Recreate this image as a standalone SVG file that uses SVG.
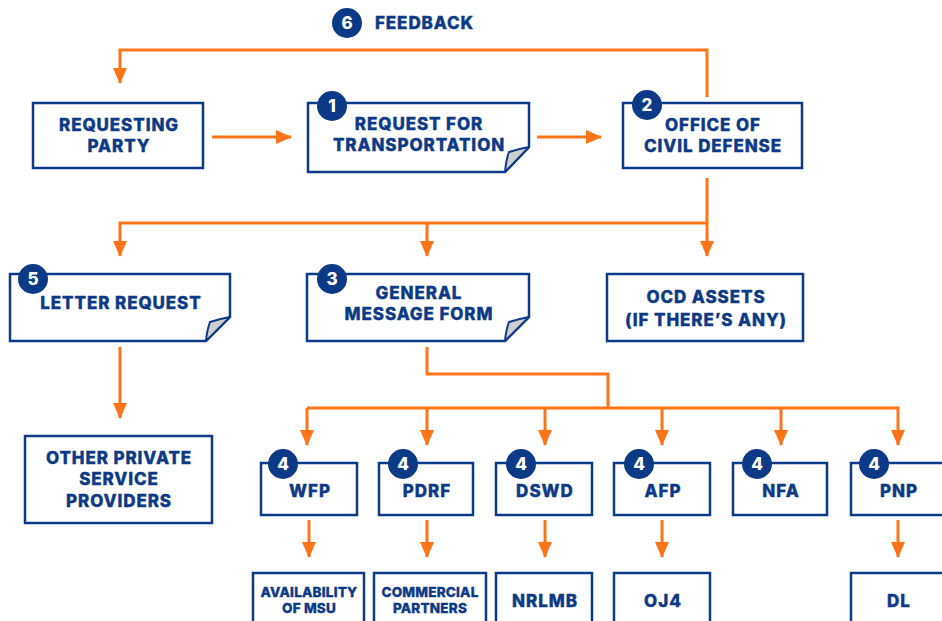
<svg xmlns="http://www.w3.org/2000/svg" width="942" height="621" viewBox="0 0 942 621">
  <style>
    .box { fill: #ffffff; stroke: #0d3a86; stroke-width: 2.5; }
    .fold { fill: #cfcfcf; stroke: #0d3a86; stroke-width: 2; stroke-linejoin: round; }
    .lbl { font-family: Inter, "Open Sans", "DejaVu Sans", sans-serif; font-weight: 800; fill: #0d3a86; stroke: #0d3a86; stroke-width: 0.35; text-anchor: middle; }
    .t17 { font-size: 17px; letter-spacing: 0.9px; }
    .t15 { font-size: 17px; letter-spacing: 1px; }
    .t12 { font-size: 13.5px; letter-spacing: 0.2px; }
    .badge { fill: #0d3a86; }
    .num { font-family: Inter, "Open Sans", "DejaVu Sans", sans-serif; font-weight: 800; font-size: 17px; fill: #ffffff; text-anchor: middle; }
    .wire { fill: none; stroke: #ff7418; stroke-width: 3; }
  </style>
  <defs>
    <marker id="tip" markerUnits="userSpaceOnUse" markerWidth="16" markerHeight="14" viewBox="0 0 16 14" refX="15" refY="7" orient="auto">
      <path d="M0,0 L16,7 L0,14 Z" fill="#ff7418"/>
    </marker>
  </defs>

  <!-- connectors -->
  <g id="connectors">
    <path class="wire" d="M707,97 V50 H120 V83" marker-end="url(#tip)"/>
    <path class="wire" d="M212,137 H291" marker-end="url(#tip)"/>
    <path class="wire" d="M537,137 H601" marker-end="url(#tip)"/>
    <path class="wire" d="M707,178 V256" marker-end="url(#tip)"/>
    <path class="wire" d="M707,223 H120 V256" marker-end="url(#tip)"/>
    <path class="wire" d="M427,223 V256" marker-end="url(#tip)"/>
    <path class="wire" d="M120,347 V418" marker-end="url(#tip)"/>
    <path class="wire" d="M427,347 V374 H608 V408"/>
    <path class="wire" d="M307,408 H898 V445" marker-end="url(#tip)"/>
    <path class="wire" d="M307,408 V445" marker-end="url(#tip)"/>
    <path class="wire" d="M427,408 V445" marker-end="url(#tip)"/>
    <path class="wire" d="M545,408 V445" marker-end="url(#tip)"/>
    <path class="wire" d="M662,408 V445" marker-end="url(#tip)"/>
    <path class="wire" d="M781,408 V445" marker-end="url(#tip)"/>
    <path class="wire" d="M309,520 V557" marker-end="url(#tip)"/>
    <path class="wire" d="M427,520 V557" marker-end="url(#tip)"/>
    <path class="wire" d="M545,520 V557" marker-end="url(#tip)"/>
    <path class="wire" d="M662,520 V557" marker-end="url(#tip)"/>
    <path class="wire" d="M898,520 V557" marker-end="url(#tip)"/>
  </g>

  <!-- step 6 heading -->
  <g id="feedback">
    <circle class="badge" cx="347" cy="23" r="15"/>
    <text class="num" x="347" y="29">6</text>
    <text class="lbl t17" x="375" y="29" style="text-anchor:start">FEEDBACK</text>
  </g>

  <g id="requesting-party">
    <rect class="box" x="33" y="103" width="170" height="65"/>
    <text class="lbl t17" x="119" y="131">REQUESTING</text>
    <text class="lbl t17" x="119" y="152">PARTY</text>
  </g>

  <g id="request-transportation">
    <path class="box" d="M308,103 H529 V147 L505,172 H308 Z"/>
    <path class="fold" d="M505,172 Q506,160 509,152 Q518,149 529,147 Z"/>
    <circle class="badge" cx="332" cy="106" r="15"/>
    <text class="num" x="332" y="112">1</text>
    <text class="lbl t17" x="419" y="130">REQUEST FOR</text>
    <text class="lbl t17" x="419" y="151">TRANSPORTATION</text>
  </g>

  <g id="ocd">
    <rect class="box" x="623" y="103" width="179" height="65"/>
    <circle class="badge" cx="647" cy="105" r="15"/>
    <text class="num" x="647" y="111">2</text>
    <text class="lbl t17" x="713" y="131">OFFICE OF</text>
    <text class="lbl t17" x="713" y="152">CIVIL DEFENSE</text>
  </g>

  <g id="letter-request">
    <path class="box" d="M10,274 H230 V317 L206,341 H10 Z"/>
    <path class="fold" d="M206,341 Q207,330 210,322 Q219,319 230,317 Z"/>
    <circle class="badge" cx="33" cy="279" r="15"/>
    <text class="num" x="33" y="285">5</text>
    <text class="lbl t17" x="121" y="309">LETTER REQUEST</text>
  </g>

  <g id="general-message-form">
    <path class="box" d="M307,274 H529 V317 L505,341 H307 Z"/>
    <path class="fold" d="M505,341 Q506,330 509,322 Q518,319 529,317 Z"/>
    <circle class="badge" cx="332" cy="279" r="15"/>
    <text class="num" x="332" y="285">3</text>
    <text class="lbl t17" x="419" y="299">GENERAL</text>
    <text class="lbl t17" x="419" y="320">MESSAGE FORM</text>
  </g>

  <g id="ocd-assets">
    <rect class="box" x="607" y="274" width="196" height="67"/>
    <text class="lbl t17" x="706" y="303">OCD ASSETS</text>
    <text class="lbl t17" x="706" y="326">(IF THERE’S ANY)</text>
  </g>

  <g id="private-providers">
    <rect class="box" x="25" y="436" width="187" height="87"/>
    <text class="lbl t17" x="119" y="464">OTHER PRIVATE</text>
    <text class="lbl t17" x="119" y="485">SERVICE</text>
    <text class="lbl t17" x="119" y="507">PROVIDERS</text>
  </g>

  <!-- step 4 agencies -->
  <g id="wfp">
    <rect class="box" x="261" y="463" width="96" height="52"/>
    <circle class="badge" cx="283" cy="464" r="15"/>
    <text class="num" x="283" y="470">4</text>
    <text class="lbl t15" x="310" y="497">WFP</text>
  </g>
  <g id="pdrf">
    <rect class="box" x="379" y="463" width="94" height="52"/>
    <circle class="badge" cx="403" cy="464" r="15"/>
    <text class="num" x="403" y="470">4</text>
    <text class="lbl t15" x="427" y="497">PDRF</text>
  </g>
  <g id="dswd">
    <rect class="box" x="496" y="463" width="96" height="52"/>
    <circle class="badge" cx="521" cy="464" r="15"/>
    <text class="num" x="521" y="470">4</text>
    <text class="lbl t15" x="545" y="497">DSWD</text>
  </g>
  <g id="afp">
    <rect class="box" x="614" y="463" width="96" height="52"/>
    <circle class="badge" cx="639" cy="464" r="15"/>
    <text class="num" x="639" y="470">4</text>
    <text class="lbl t15" x="663" y="497">AFP</text>
  </g>
  <g id="nfa">
    <rect class="box" x="733" y="463" width="94" height="52"/>
    <circle class="badge" cx="757" cy="464" r="15"/>
    <text class="num" x="757" y="470">4</text>
    <text class="lbl t15" x="781" y="497">NFA</text>
  </g>
  <g id="pnp">
    <rect class="box" x="851" y="463" width="96" height="52"/>
    <circle class="badge" cx="874" cy="464" r="15"/>
    <text class="num" x="874" y="470">4</text>
    <text class="lbl t15" x="899" y="497">PNP</text>
  </g>

  <!-- resources under each agency -->
  <g id="msu">
    <rect class="box" x="253" y="573" width="111" height="60"/>
    <text class="lbl t12" x="309" y="597">AVAILABILITY</text>
    <text class="lbl t12" x="309" y="613">OF MSU</text>
  </g>
  <g id="commercial">
    <rect class="box" x="374" y="573" width="112" height="60"/>
    <text class="lbl t12" x="430" y="597">COMMERCIAL</text>
    <text class="lbl t12" x="430" y="613">PARTNERS</text>
  </g>
  <g id="nrlmb">
    <rect class="box" x="496" y="573" width="96" height="60"/>
    <text class="lbl t15" x="545" y="607">NRLMB</text>
  </g>
  <g id="oj4">
    <rect class="box" x="614" y="573" width="96" height="60"/>
    <text class="lbl t15" x="663" y="607">OJ4</text>
  </g>
  <g id="dl">
    <rect class="box" x="851" y="573" width="96" height="60"/>
    <text class="lbl t15" x="899" y="607">DL</text>
  </g>
</svg>
